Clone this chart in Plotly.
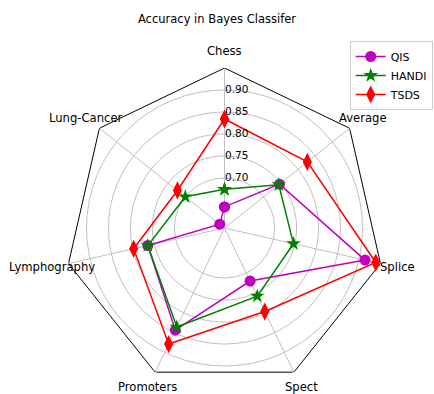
import math
import plotly.graph_objects as go

# Datasets around the radar, clockwise from the top
categories = ["Chess", "Average", "Splice", "Spect", "Promoters", "Lymphography", "Lung-Cancer"]

# Classification accuracy per dataset
qis = [0.634, 0.746, 0.914, 0.720, 0.844, 0.765, 0.600]
handi = [0.674, 0.744, 0.747, 0.758, 0.836, 0.765, 0.700]
tsds = [0.834, 0.827, 0.939, 0.797, 0.879, 0.798, 0.723]

radial_ticks = [0.70, 0.75, 0.80, 0.85, 0.90]
r_min, r_max = 0.586, 0.95

W, H = 434, 394
CX, CY, RADIUS = 224.5, 228.0, 160.0   # polar centre and outer radius, px
LABEL_R = 177.0                        # where the dataset names sit, px


def closed(values):
    return list(values) + [values[0]]


theta = closed(categories)

fig = go.Figure()

# Heptagonal outer frame
fig.add_trace(go.Scatterpolar(
    r=[r_max] * len(theta), theta=theta, mode="lines",
    line=dict(color="black", width=1), showlegend=False, hoverinfo="skip",
))

series = [
    ("QIS", qis, "#bf00bf", "circle", 11),
    ("HANDI", handi, "#008000", "star", 11),
    ("TSDS", tsds, "#ff0000", "diamond-tall", 13),
]
for name, vals, color, symbol, size in series:
    fig.add_trace(go.Scatterpolar(
        r=closed(vals), theta=theta, name=name, mode="lines+markers",
        line=dict(color=color, width=1.5),
        marker=dict(symbol=symbol, size=size, color=color, line=dict(width=0)),
    ))

# Dataset names centred just outside the frame vertices
n = len(categories)
for i, cat in enumerate(categories):
    ang = math.radians(90 - i * 360 / n)
    px = CX + LABEL_R * math.cos(ang)
    py = CY - LABEL_R * math.sin(ang)
    fig.add_annotation(
        text=cat, x=px / W, y=1 - py / H, xref="paper", yref="paper",
        xanchor="center", yanchor="middle", showarrow=False,
        font=dict(size=11.6, color="black"),
    )

fig.update_layout(
    width=W, height=H,
    margin=dict(l=0, r=0, t=0, b=0),
    paper_bgcolor="white",
    font=dict(family="DejaVu Sans", size=11.6, color="black"),
    title=dict(text="Accuracy in Bayes Classifer", x=0.5, xanchor="center",
               y=1 - 19 / H, yanchor="middle", font=dict(size=11.5)),
    polar=dict(
        domain=dict(x=[(CX - RADIUS) / W, (CX + RADIUS) / W],
                    y=[1 - (CY + RADIUS) / H, 1 - (CY - RADIUS) / H]),
        bgcolor="white",
        gridshape="circular",
        radialaxis=dict(
            range=[r_min, r_max], tickvals=radial_ticks,
            ticktext=[f"{v:.2f}" for v in radial_ticks],
            angle=90, tickangle=90, side="clockwise",
            showline=False, ticks="", gridcolor="#c0c0c0", gridwidth=1,
            tickfont=dict(size=10.5),
        ),
        angularaxis=dict(
            categoryorder="array", categoryarray=categories,
            direction="clockwise", rotation=90, showticklabels=False,
            showline=False, ticks="", gridcolor="#c0c0c0", gridwidth=1,
        ),
    ),
    legend=dict(
        x=0.997, xanchor="right", y=1 - 41 / H, yanchor="top",
        bordercolor="#cccccc", borderwidth=1, bgcolor="white",
        font=dict(size=11), itemwidth=30,
    ),
)

fig.write_html("out.html")
